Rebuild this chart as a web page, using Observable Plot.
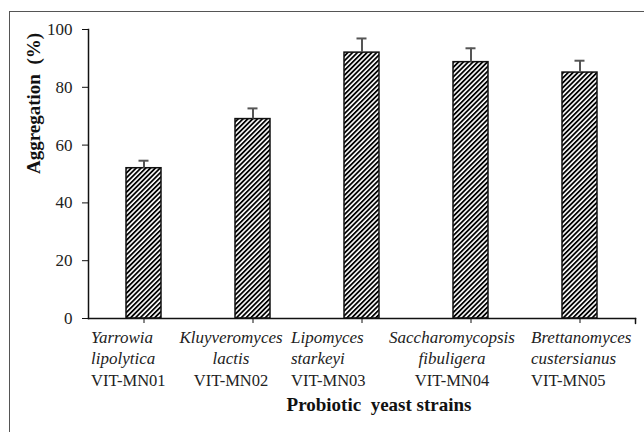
<!DOCTYPE html>
<html>
<head>
<meta charset="utf-8">
<script src="https://cdn.jsdelivr.net/npm/d3@7"></script>
<script src="https://cdn.jsdelivr.net/npm/@observablehq/plot@0.6"></script>
<style>
  html, body { margin: 0; padding: 0; background: #fff; }
  #wrap { position: relative; width: 644px; height: 432px; overflow: hidden; }
  #frame { position: absolute; left: 9px; top: 11px; width: 700px; height: 500px; border: 1px solid #555; box-sizing: border-box; }
  #chart { position: absolute; left: 0; top: 0; }
</style>
</head>
<body>
<div id="wrap"><div id="frame"></div><div id="chart"></div></div>
<script>
const strainCodes = ["VIT-MN01", "VIT-MN02", "VIT-MN03", "VIT-MN04", "VIT-MN05"];
const genus = ["Yarrowia", "Kluyveromyces", "Lipomyces", "Saccharomycopsis", "Brettanomyces"];
const species = ["lipolytica", "lactis", "starkeyi", "fibuligera", "custersianus"];
const aggregation = [52, 69, 92, 88.7, 85.1];
const errors = [2.6, 3.7, 4.9, 4.8, 4.1];
const yTicks = [0, 20, 40, 60, 80, 100];

// label block layout (alignment of each category's text box, relative to its bar)
const labelAlign = [
  { anchor: "start", dx: -53 },
  { anchor: "middle", dx: -22 },
  { anchor: "start", dx: -71 },
  { anchor: "middle", dx: -19 },
  { anchor: "start", dx: -49 }
];

const data = strainCodes.map((c, i) => ({
  code: c, genus: genus[i], species: species[i], value: aggregation[i], err: errors[i]
}));

const serif = "Liberation Serif";

const labelMarks = data.flatMap((d, i) => {
  const a = labelAlign[i];
  const common = { x: "code", frameAnchor: "bottom", textAnchor: a.anchor, dx: a.dx, fontFamily: serif, fill: "#222" };
  return [
    Plot.text([d], { ...common, text: "genus", dy: 24, fontStyle: "italic", fontSize: 17 }),
    Plot.text([d], { ...common, text: "species", dy: 45, fontStyle: "italic", fontSize: 17 }),
    Plot.text([d], { ...common, text: "code", dy: 67, fontSize: 16.5 })
  ];
});

const plot = Plot.plot({
  width: 644,
  height: 432,
  marginLeft: 88,
  marginRight: 9,
  marginTop: 29,
  marginBottom: 114,
  style: { fontFamily: serif, fontSize: "16px", color: "#111", background: "transparent" },
  x: { domain: strainCodes, paddingInner: 0.68, paddingOuter: 0.34, label: null },
  y: { domain: [0, 100], label: null },
  marks: [
    Plot.barY(data, { x: "code", y: "value", fill: "url(#hatch)", stroke: "#111", strokeWidth: 1.5 }),
    Plot.ruleX(data, { x: "code", y1: "value", y2: d => d.value + d.err, stroke: "#555", strokeWidth: 2 }),
    Plot.tickY(data, { x: "code", y: d => d.value + d.err, stroke: "#555", strokeWidth: 2, insetLeft: 12.5, insetRight: 12.5 }),
    Plot.frame({ anchor: "left", stroke: "#111", strokeWidth: 1.5 }),
    Plot.frame({ anchor: "bottom", stroke: "#111", strokeWidth: 1.5 }),
    Plot.axisY({ ticks: yTicks, tickSize: 6, tickPadding: 10, fontSize: 17, fontFamily: serif, stroke: "#111", fill: "#222", label: null }),
    Plot.axisX({ tickSize: 5, tickFormat: () => "", stroke: "#111", label: null }),
    Plot.vector([0], {
      frameAnchor: "bottom-right", length: 5, rotate: 180, anchor: "start", stroke: "#111", strokeWidth: 1.5,
      shape: { draw(ctx, l) { ctx.moveTo(0, 0); ctx.lineTo(0, -l); } }
    }),
    ...labelMarks,
    Plot.text(["Probiotic  yeast strains"], { frameAnchor: "bottom", dy: 92, dx: 17, fontFamily: serif, fontWeight: "bold", fontSize: 19, fill: "#111" }),
    Plot.text(["Aggregation  (%)"], { frameAnchor: "left", dx: -55, rotate: -90, fontFamily: serif, fontWeight: "bold", fontSize: 19, fill: "#111" })
  ]
});

const svg = d3.select(plot);
svg.style("white-space", "pre");
const defs = svg.insert("defs", ":first-child");
const pat = defs.append("pattern")
  .attr("id", "hatch")
  .attr("patternUnits", "userSpaceOnUse")
  .attr("width", 3.4)
  .attr("height", 3.4)
  .attr("patternTransform", "rotate(45)");
pat.append("rect").attr("width", 3.4).attr("height", 3.4).attr("fill", "#fff");
pat.append("rect").attr("width", 1.8).attr("height", 3.4).attr("fill", "#000");

document.getElementById("chart").appendChild(plot);
</script>
</body>
</html>
